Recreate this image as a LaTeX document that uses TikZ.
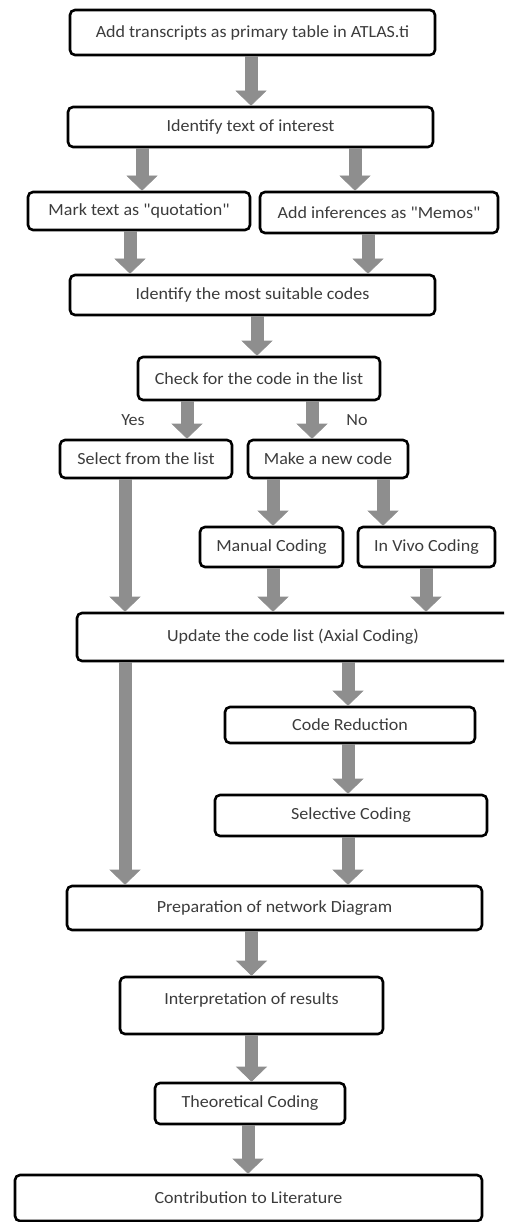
\documentclass[tikz,border=0pt]{standalone}
\usepackage{fontspec}
\setmainfont{Carlito}[Ligatures=TeXOff, FakeStretch=1.06]
\usetikzlibrary{arrows.meta}
\definecolor{arrowgray}{HTML}{8E8E8E}
\definecolor{textgray}{HTML}{3C3C3C}
\tikzset{
  stepbox/.style={draw=black, line width=2.6pt, rounded corners=5pt, fill=white,
    inner sep=0pt, text=textgray, font=\fontsize{17}{19}\selectfont},
  flow/.style={draw=arrowgray, line width=13pt,
    -{Triangle[width=31pt, length=15pt, line width=0.6pt]}},
  lbl/.style={text=textgray, font=\fontsize{17}{19}\selectfont, inner sep=0pt}
}
\begin{document}
\begin{tikzpicture}[x=1pt, y=-1pt]
\useasboundingbox (0,0) rectangle (504,1222);
\clip (0,0) rectangle (504,1222);

% process boxes
\node[stepbox, minimum width=365pt, minimum height=45pt] (A) at (252.5,32.5) {Add transcripts as primary table in ATLAS.ti};
\node[stepbox, minimum width=365pt, minimum height=40pt] (B) at (250.5,127) {Identify text of interest};
\node[stepbox, minimum width=222pt, minimum height=38pt] (C) at (139,211) {Mark text as "quotation"};
\node[stepbox, minimum width=238pt, minimum height=41pt] (D) at (379,212.5) {Add inferences as "Memos"};
\node[stepbox, minimum width=365pt, minimum height=40pt] (E) at (252.5,295) {Identify the most suitable codes};
\node[stepbox, minimum width=242pt, minimum height=43pt] (F) at (259,378.5) {Check for the code in the list};
\node[stepbox, minimum width=172pt, minimum height=38pt] (G) at (146,459) {Select from the list};
\node[stepbox, minimum width=160pt, minimum height=38pt] (H) at (328,459) {Make a new code};
\node[stepbox, minimum width=143pt, minimum height=40pt] (I) at (271.5,547) {Manual Coding};
\node[stepbox, minimum width=137pt, minimum height=40pt] (J) at (426.5,547) {In Vivo Coding};
\node[stepbox, minimum width=432pt, minimum height=48pt] (K) at (293,637) {Update the code list (Axial Coding)};
\node[stepbox, minimum width=250pt, minimum height=36pt] (L) at (350,725) {Code Reduction};
\node[stepbox, minimum width=272pt, minimum height=41pt] (M) at (351,815.5) {Selective Coding};
\node[stepbox, minimum width=415pt, minimum height=44pt] (N) at (274.5,908) {Preparation of network Diagram};
\node[stepbox, minimum width=263pt, minimum height=57pt, text depth=14pt] (O) at (251.5,1005.5) {Interpretation of results};
\node[stepbox, minimum width=190pt, minimum height=41pt] (P) at (250,1103.5) {Theoretical Coding};
\node[stepbox, minimum width=467pt, minimum height=46pt] (Q) at (248.5,1198) {Contribution to Literature};

% branch labels
\node[lbl] (yes) at (133,420) {Yes};
\node[lbl] (no) at (357,420) {No};

% block arrows
\draw[flow] ([xshift=-1.5pt]A.south) -- ([xshift=-1.5pt]A.south |- B.north);
\draw[flow] ([xshift=3pt]C.north |- B.south) -- ([xshift=3pt]C.north);
\draw[flow] ([xshift=-24pt]D.north |- B.south) -- ([xshift=-24pt]D.north);
\draw[flow] ([xshift=-9pt]C.south) -- ([xshift=-9pt]C.south |- E.north);
\draw[flow] ([xshift=-11pt]D.south) -- ([xshift=-11pt]D.south |- E.north);
\draw[flow] ([xshift=4.5pt]E.south) -- ([xshift=4.5pt]E.south |- F.north);
\draw[flow] ([xshift=41pt]G.north |- F.south) -- ([xshift=41pt]G.north);
\draw[flow] ([xshift=-16pt]H.north |- F.south) -- ([xshift=-16pt]H.north);
\draw[flow] ([xshift=1.5pt]I.north |- H.south) -- ([xshift=1.5pt]I.north);
\draw[flow] ([xshift=-43.5pt]J.north |- H.south) -- ([xshift=-43.5pt]J.north);
\draw[flow] ([xshift=-21pt]G.south) -- ([xshift=-21pt]G.south |- K.north);
\draw[flow] ([xshift=1.5pt]I.south) -- ([xshift=1.5pt]I.south |- K.north);
\draw[flow] ([xshift=-0.5pt]J.south) -- ([xshift=-0.5pt]J.south |- K.north);
\draw[flow] ([xshift=-2pt]L.north |- K.south) -- ([xshift=-2pt]L.north);
\draw[flow] ([xshift=-21pt]G.south |- K.south) -- ([xshift=-21pt]G.south |- N.north);
\draw[flow] ([xshift=-2pt]L.south) -- ([xshift=-2pt]L.south |- M.north);
\draw[flow] ([xshift=-2pt]L.south |- M.south) -- ([xshift=-2pt]L.south |- N.north);
\draw[flow] (O.north |- N.south) -- (O.north);
\draw[flow] (O.south) -- (O.south |- P.north);
\draw[flow] ([xshift=-2pt]P.south) -- ([xshift=-2pt]P.south |- Q.north);
\end{tikzpicture}
\end{document}
